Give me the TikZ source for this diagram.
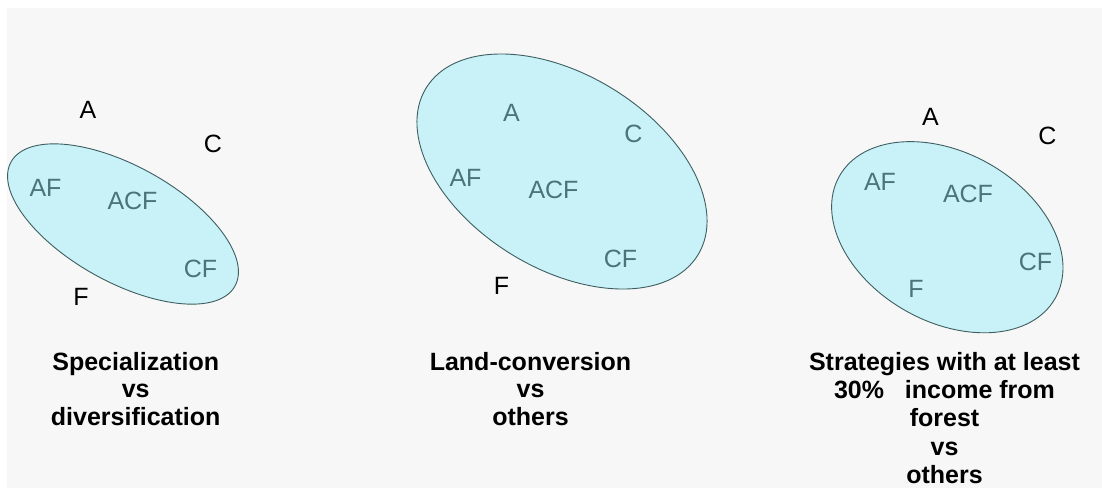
\documentclass[tikz,border=0pt]{standalone}
\usepackage{fontspec}
\setmainfont{Liberation Sans}
\usetikzlibrary{shapes.geometric}
\definecolor{bgc}{HTML}{F7F7F7}
\definecolor{ellfill}{HTML}{C8F1F8}
\definecolor{elldraw}{HTML}{3E5E60}
\definecolor{intext}{HTML}{4B7479}
\begin{document}
\begin{tikzpicture}[x=1pt,y=1pt,
  setell/.style={ellipse, draw=elldraw, fill=ellfill, line width=0.9pt, inner sep=0pt, outer sep=0pt},
  outlbl/.style={inner sep=0pt, font=\fontsize{25}{30}\selectfont, text=black},
  inlbl/.style={outlbl, text=intext},
  caption/.style={align=center, font=\fontsize{25}{27.3}\selectfont\bfseries, inner sep=0pt, anchor=base}]
\useasboundingbox (0,0) rectangle (1102,-488);
\fill[white] (0,0) rectangle (1102,-488);
\fill[bgc] (7,-8) rectangle (1102,-488);

% left diagram
\node[setell, minimum width=256pt, minimum height=116pt, rotate=-29] (e1) at (123,-224) {};
\node[outlbl] (a1) at (88,-110) {A};
\node[outlbl] (c1) at (213,-143.5) {C};
\node[outlbl] (f1) at (81,-296.5) {F};
\node[inlbl] (af1) at (45.5,-188) {AF};
\node[inlbl] (acf1) at (132.5,-200.5) {ACF};
\node[inlbl] (cf1) at (200.5,-269) {CF};
\node[caption] (t1) at (135.7,-425) {Specialization\\vs\\diversification};

% middle diagram
\node[setell, minimum width=319pt, minimum height=194pt, rotate=-31.6] (e2) at (562,-171.5) {};
\node[inlbl] (a2) at (511.5,-113) {A};
\node[inlbl] (c2) at (633.5,-133.5) {C};
\node[inlbl] (af2) at (465.5,-178) {AF};
\node[inlbl] (acf2) at (553.5,-189.5) {ACF};
\node[inlbl] (cf2) at (620.5,-258.5) {CF};
\node[outlbl] (f2) at (501.5,-285.5) {F};
\node[caption] (t2) at (530.5,-425) {Land-conversion\\vs\\others};

% right diagram
\node[setell, minimum width=248pt, minimum height=169pt, rotate=-29.5] (e3) at (947.3,-237.2) {};
\node[outlbl] (a3) at (930.5,-116.5) {A};
\node[outlbl] (c3) at (1047.5,-135.5) {C};
\node[inlbl] (af3) at (880,-181.5) {AF};
\node[inlbl] (acf3) at (968,-193.5) {ACF};
\node[inlbl] (cf3) at (1035.5,-262) {CF};
\node[inlbl] (f3) at (916,-288.5) {F};
\node[caption, font=\fontsize{25}{28.3}\selectfont\bfseries] (t3) at (944.5,-483.3) {Strategies with at least\\30\%\ \ \ income from\\forest\\vs\\others};
\end{tikzpicture}
\end{document}
